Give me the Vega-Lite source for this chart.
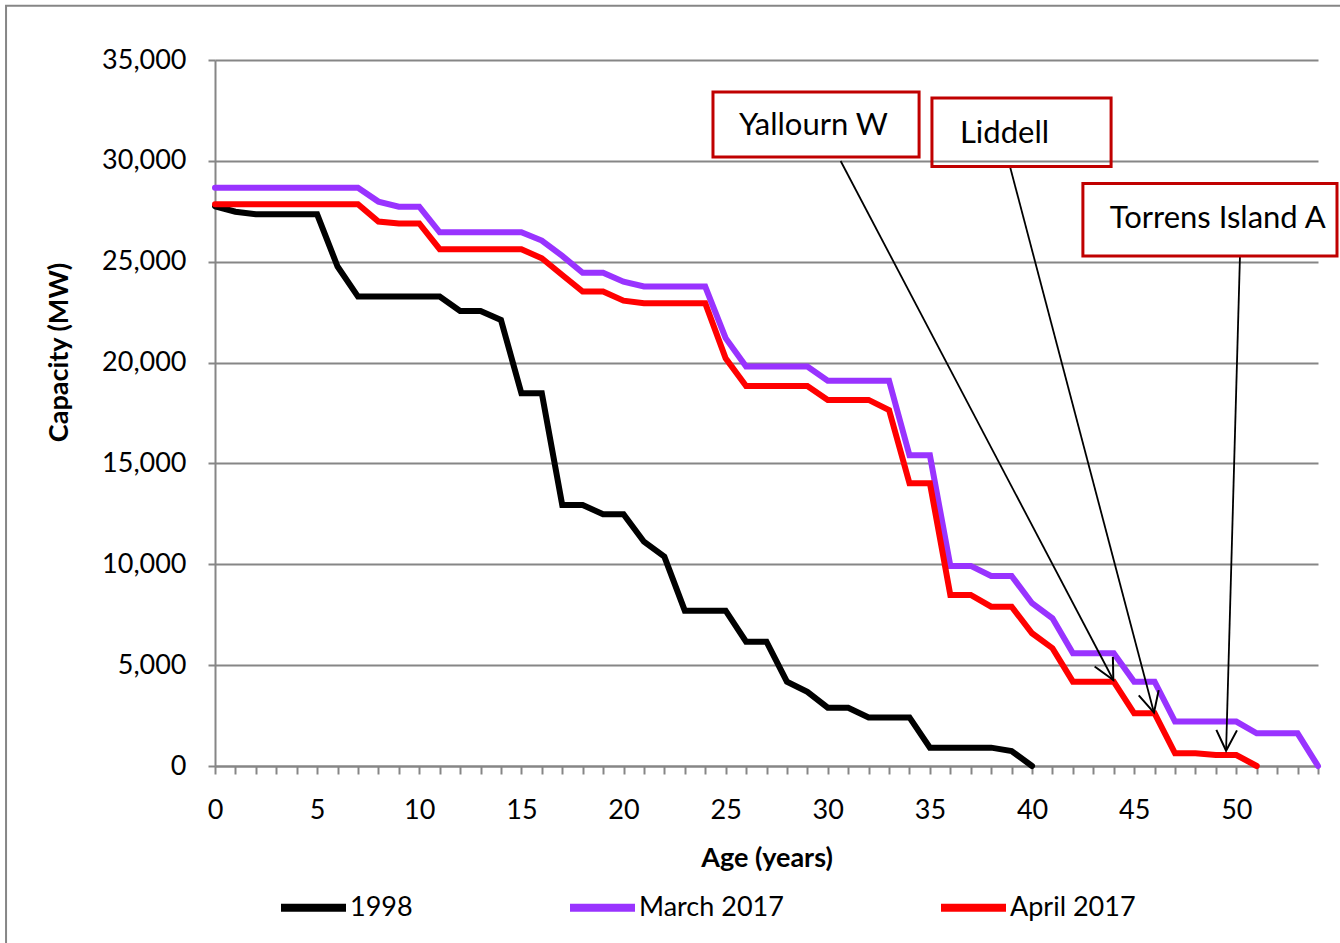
{
  "$schema": "https://vega.github.io/schema/vega-lite/v6.json",
  "width": 1103,
  "height": 706,
  "autosize": {"type": "none"},
  "padding": {"left": 215, "top": 60, "right": 22, "bottom": 177},
  "background": "white",
  "config": {
    "view": {"stroke": null},
    "font": "Lato",
    "text": {"font": "Lato"}
  },
  "resolve": {"axis": {"x": "independent", "y": "independent"}},
  "datasets": {
    "series": [
      {"series": "1998", "age": 0, "cap": 27750},
      {"series": "1998", "age": 1, "cap": 27480},
      {"series": "1998", "age": 2, "cap": 27350},
      {"series": "1998", "age": 3, "cap": 27350},
      {"series": "1998", "age": 4, "cap": 27350},
      {"series": "1998", "age": 5, "cap": 27350},
      {"series": "1998", "age": 6, "cap": 24760},
      {"series": "1998", "age": 7, "cap": 23270},
      {"series": "1998", "age": 8, "cap": 23270},
      {"series": "1998", "age": 9, "cap": 23270},
      {"series": "1998", "age": 10, "cap": 23270},
      {"series": "1998", "age": 11, "cap": 23270},
      {"series": "1998", "age": 12, "cap": 22560},
      {"series": "1998", "age": 13, "cap": 22560},
      {"series": "1998", "age": 14, "cap": 22110},
      {"series": "1998", "age": 15, "cap": 18480},
      {"series": "1998", "age": 16, "cap": 18480},
      {"series": "1998", "age": 17, "cap": 12940},
      {"series": "1998", "age": 18, "cap": 12940},
      {"series": "1998", "age": 19, "cap": 12480},
      {"series": "1998", "age": 20, "cap": 12480},
      {"series": "1998", "age": 21, "cap": 11120},
      {"series": "1998", "age": 22, "cap": 10380},
      {"series": "1998", "age": 23, "cap": 7700},
      {"series": "1998", "age": 24, "cap": 7700},
      {"series": "1998", "age": 25, "cap": 7700},
      {"series": "1998", "age": 26, "cap": 6160},
      {"series": "1998", "age": 27, "cap": 6160},
      {"series": "1998", "age": 28, "cap": 4180},
      {"series": "1998", "age": 29, "cap": 3680},
      {"series": "1998", "age": 30, "cap": 2890},
      {"series": "1998", "age": 31, "cap": 2890},
      {"series": "1998", "age": 32, "cap": 2410},
      {"series": "1998", "age": 33, "cap": 2410},
      {"series": "1998", "age": 34, "cap": 2410},
      {"series": "1998", "age": 35, "cap": 910},
      {"series": "1998", "age": 36, "cap": 910},
      {"series": "1998", "age": 37, "cap": 910},
      {"series": "1998", "age": 38, "cap": 910},
      {"series": "1998", "age": 39, "cap": 745},
      {"series": "1998", "age": 40, "cap": 0},
      {"series": "March 2017", "age": 0, "cap": 28670},
      {"series": "March 2017", "age": 1, "cap": 28670},
      {"series": "March 2017", "age": 2, "cap": 28670},
      {"series": "March 2017", "age": 3, "cap": 28670},
      {"series": "March 2017", "age": 4, "cap": 28670},
      {"series": "March 2017", "age": 5, "cap": 28670},
      {"series": "March 2017", "age": 6, "cap": 28670},
      {"series": "March 2017", "age": 7, "cap": 28670},
      {"series": "March 2017", "age": 8, "cap": 27980},
      {"series": "March 2017", "age": 9, "cap": 27730},
      {"series": "March 2017", "age": 10, "cap": 27730},
      {"series": "March 2017", "age": 11, "cap": 26460},
      {"series": "March 2017", "age": 12, "cap": 26460},
      {"series": "March 2017", "age": 13, "cap": 26460},
      {"series": "March 2017", "age": 14, "cap": 26460},
      {"series": "March 2017", "age": 15, "cap": 26460},
      {"series": "March 2017", "age": 16, "cap": 26050},
      {"series": "March 2017", "age": 17, "cap": 25290},
      {"series": "March 2017", "age": 18, "cap": 24450},
      {"series": "March 2017", "age": 19, "cap": 24450},
      {"series": "March 2017", "age": 20, "cap": 24010},
      {"series": "March 2017", "age": 21, "cap": 23770},
      {"series": "March 2017", "age": 22, "cap": 23770},
      {"series": "March 2017", "age": 23, "cap": 23770},
      {"series": "March 2017", "age": 24, "cap": 23770},
      {"series": "March 2017", "age": 25, "cap": 21210},
      {"series": "March 2017", "age": 26, "cap": 19800},
      {"series": "March 2017", "age": 27, "cap": 19800},
      {"series": "March 2017", "age": 28, "cap": 19800},
      {"series": "March 2017", "age": 29, "cap": 19800},
      {"series": "March 2017", "age": 30, "cap": 19100},
      {"series": "March 2017", "age": 31, "cap": 19100},
      {"series": "March 2017", "age": 32, "cap": 19100},
      {"series": "March 2017", "age": 33, "cap": 19100},
      {"series": "March 2017", "age": 34, "cap": 15400},
      {"series": "March 2017", "age": 35, "cap": 15400},
      {"series": "March 2017", "age": 36, "cap": 9920},
      {"series": "March 2017", "age": 37, "cap": 9920},
      {"series": "March 2017", "age": 38, "cap": 9420},
      {"series": "March 2017", "age": 39, "cap": 9420},
      {"series": "March 2017", "age": 40, "cap": 8070},
      {"series": "March 2017", "age": 41, "cap": 7320},
      {"series": "March 2017", "age": 42, "cap": 5590},
      {"series": "March 2017", "age": 43, "cap": 5590},
      {"series": "March 2017", "age": 44, "cap": 5590},
      {"series": "March 2017", "age": 45, "cap": 4180},
      {"series": "March 2017", "age": 46, "cap": 4180},
      {"series": "March 2017", "age": 47, "cap": 2200},
      {"series": "March 2017", "age": 48, "cap": 2200},
      {"series": "March 2017", "age": 49, "cap": 2200},
      {"series": "March 2017", "age": 50, "cap": 2200},
      {"series": "March 2017", "age": 51, "cap": 1620},
      {"series": "March 2017", "age": 52, "cap": 1620},
      {"series": "March 2017", "age": 53, "cap": 1620},
      {"series": "March 2017", "age": 54, "cap": 0},
      {"series": "April 2017", "age": 0, "cap": 27850},
      {"series": "April 2017", "age": 1, "cap": 27850},
      {"series": "April 2017", "age": 2, "cap": 27850},
      {"series": "April 2017", "age": 3, "cap": 27850},
      {"series": "April 2017", "age": 4, "cap": 27850},
      {"series": "April 2017", "age": 5, "cap": 27850},
      {"series": "April 2017", "age": 6, "cap": 27850},
      {"series": "April 2017", "age": 7, "cap": 27850},
      {"series": "April 2017", "age": 8, "cap": 26990},
      {"series": "April 2017", "age": 9, "cap": 26900},
      {"series": "April 2017", "age": 10, "cap": 26900},
      {"series": "April 2017", "age": 11, "cap": 25620},
      {"series": "April 2017", "age": 12, "cap": 25620},
      {"series": "April 2017", "age": 13, "cap": 25620},
      {"series": "April 2017", "age": 14, "cap": 25620},
      {"series": "April 2017", "age": 15, "cap": 25620},
      {"series": "April 2017", "age": 16, "cap": 25170},
      {"series": "April 2017", "age": 17, "cap": 24340},
      {"series": "April 2017", "age": 18, "cap": 23520},
      {"series": "April 2017", "age": 19, "cap": 23520},
      {"series": "April 2017", "age": 20, "cap": 23070},
      {"series": "April 2017", "age": 21, "cap": 22940},
      {"series": "April 2017", "age": 22, "cap": 22940},
      {"series": "April 2017", "age": 23, "cap": 22940},
      {"series": "April 2017", "age": 24, "cap": 22940},
      {"series": "April 2017", "age": 25, "cap": 20210},
      {"series": "April 2017", "age": 26, "cap": 18840},
      {"series": "April 2017", "age": 27, "cap": 18840},
      {"series": "April 2017", "age": 28, "cap": 18840},
      {"series": "April 2017", "age": 29, "cap": 18840},
      {"series": "April 2017", "age": 30, "cap": 18150},
      {"series": "April 2017", "age": 31, "cap": 18150},
      {"series": "April 2017", "age": 32, "cap": 18150},
      {"series": "April 2017", "age": 33, "cap": 17650},
      {"series": "April 2017", "age": 34, "cap": 14020},
      {"series": "April 2017", "age": 35, "cap": 14020},
      {"series": "April 2017", "age": 36, "cap": 8480},
      {"series": "April 2017", "age": 37, "cap": 8480},
      {"series": "April 2017", "age": 38, "cap": 7900},
      {"series": "April 2017", "age": 39, "cap": 7900},
      {"series": "April 2017", "age": 40, "cap": 6580},
      {"series": "April 2017", "age": 41, "cap": 5840},
      {"series": "April 2017", "age": 42, "cap": 4180},
      {"series": "April 2017", "age": 43, "cap": 4180},
      {"series": "April 2017", "age": 44, "cap": 4180},
      {"series": "April 2017", "age": 45, "cap": 2610},
      {"series": "April 2017", "age": 46, "cap": 2610},
      {"series": "April 2017", "age": 47, "cap": 630},
      {"series": "April 2017", "age": 48, "cap": 630},
      {"series": "April 2017", "age": 49, "cap": 545},
      {"series": "April 2017", "age": 50, "cap": 545},
      {"series": "April 2017", "age": 51, "cap": 0}
    ],
    "notes": [
      {"label": "Yallourn W", "bx1": 24.38, "bx2": 34.47, "by1": 33413, "by2": 30191, "tx": 25.65, "ty": 31723, "sx": 30.63, "sy": 29993, "ex": 43.98, "ey": 4263},
      {"label": "Liddell", "bx1": 35.10, "bx2": 43.87, "by1": 33116, "by2": 29721, "tx": 36.47, "ty": 31312, "sx": 38.92, "sy": 29721, "ex": 45.97, "ey": 2642},
      {"label": "Torrens Island A", "bx1": 42.49, "bx2": 54.93, "by1": 28878, "by2": 25283, "tx": 43.8, "ty": 27098, "sx": 50.18, "sy": 25283, "ex": 49.5, "ey": 758}
    ]
  },
  "layer": [
    {
      "data": {"name": "series"},
      "mark": {"type": "line", "strokeWidth": 6, "strokeCap": "round"},
      "encoding": {
        "x": {
          "field": "age", "type": "quantitative",
          "scale": {"domain": [0, 54], "nice": false, "zero": false},
          "axis": {
            "values": [0,1,2,3,4,5,6,7,8,9,10,11,12,13,14,15,16,17,18,19,20,21,22,23,24,25,26,27,28,29,30,31,32,33,34,35,36,37,38,39,40,41,42,43,44,45,46,47,48,49,50,51,52,53,54],
            "format": "d",
            "labelExpr": "datum.value % 5 === 0 ? datum.label : ''",
            "grid": false,
            "tickSize": 8, "tickColor": "#868686", "tickWidth": 2,
            "domainColor": "#868686", "domainWidth": 2,
            "labelFont": "Lato", "labelFontSize": 27, "labelColor": "#000000", "labelPadding": 23,
            "labelFlush": false, "labelOverlap": false,
            "title": "Age (years)", "titleFont": "Lato", "titleFontSize": 27, "titleFontWeight": "bold", "titleColor": "#000000",
            "titleY": 92, "titleBaseline": "middle"
          }
        },
        "y": {
          "field": "cap", "type": "quantitative",
          "scale": {"domain": [0, 35000], "nice": false},
          "axis": {
            "values": [0, 5000, 10000, 15000, 20000, 25000, 30000, 35000],
            "format": ",.0f",
            "grid": true, "gridColor": "#868686", "gridWidth": 2,
            "tickSize": 7, "tickColor": "#868686", "tickWidth": 2,
            "domainColor": "#868686", "domainWidth": 2,
            "labelFont": "Lato", "labelFontSize": 27, "labelColor": "#000000", "labelPadding": 22,
            "title": "Capacity (MW)", "titleFont": "Lato", "titleFontSize": 27, "titleFontWeight": "bold", "titleColor": "#000000",
            "titleX": -156, "titleY": 292, "titleAngle": -90, "titleAlign": "center", "titleBaseline": "middle"
          }
        },
        "color": {
          "field": "series", "type": "nominal",
          "scale": {"domain": ["1998", "March 2017", "April 2017"], "range": ["#000000", "#9933FF", "#FF0000"]},
          "legend": {
            "orient": "none", "legendX": 62, "legendY": 811,
            "direction": "horizontal", "title": null,
            "symbolType": "stroke", "symbolSize": 4225, "symbolStrokeWidth": 8,
            "labelFont": "Lato", "labelFontSize": 27, "labelColor": "#000000", "labelOffset": 0,
            "columnPadding": 141, "padding": 0
          }
        }
      }
    },
    {
      "data": {"values": [{}]},
      "mark": {"type": "rect", "fill": null, "stroke": "#868686", "strokeWidth": 2, "clip": false},
      "encoding": {
        "x": {"datum": -10.23, "type": "quantitative", "axis": null},
        "x2": {"datum": 57},
        "y": {"datum": 37692, "type": "quantitative", "axis": null},
        "y2": {"datum": -10000}
      }
    },
    {
      "data": {"name": "notes"},
      "mark": {"type": "rule", "stroke": "#000000", "strokeWidth": 1.8},
      "encoding": {
        "x": {"field": "sx", "type": "quantitative", "axis": null},
        "y": {"field": "sy", "type": "quantitative", "axis": null},
        "x2": {"field": "ex"},
        "y2": {"field": "ey"}
      }
    },
    {
      "data": {"name": "notes"},
      "transform": [{"filter": "datum.label === 'Yallourn W'"}],
      "mark": {"type": "point", "shape": "M-0.5,-1L0,0L0.5,-1", "filled": false, "stroke": "#000000", "strokeWidth": 2, "size": 1700, "angle": -27.7, "opacity": 1},
      "encoding": {
        "x": {"field": "ex", "type": "quantitative", "axis": null},
        "y": {"field": "ey", "type": "quantitative", "axis": null}
      }
    },
    {
      "data": {"name": "notes"},
      "transform": [{"filter": "datum.label === 'Liddell'"}],
      "mark": {"type": "point", "shape": "M-0.5,-1L0,0L0.5,-1", "filled": false, "stroke": "#000000", "strokeWidth": 2, "size": 1700, "angle": -14.8, "opacity": 1},
      "encoding": {
        "x": {"field": "ex", "type": "quantitative", "axis": null},
        "y": {"field": "ey", "type": "quantitative", "axis": null}
      }
    },
    {
      "data": {"name": "notes"},
      "transform": [{"filter": "datum.label === 'Torrens Island A'"}],
      "mark": {"type": "point", "shape": "M-0.5,-1L0,0L0.5,-1", "filled": false, "stroke": "#000000", "strokeWidth": 2, "size": 1700, "angle": 1.6, "opacity": 1},
      "encoding": {
        "x": {"field": "ex", "type": "quantitative", "axis": null},
        "y": {"field": "ey", "type": "quantitative", "axis": null}
      }
    },
    {
      "data": {"name": "notes"},
      "mark": {"type": "rect", "fill": null, "stroke": "#C00000", "strokeWidth": 3, "clip": false},
      "encoding": {
        "x": {"field": "bx1", "type": "quantitative", "axis": null},
        "x2": {"field": "bx2"},
        "y": {"field": "by1", "type": "quantitative", "axis": null},
        "y2": {"field": "by2"}
      }
    },
    {
      "data": {"name": "notes"},
      "mark": {"type": "text", "font": "Lato", "fontSize": 31, "align": "left", "baseline": "middle", "color": "#000000"},
      "encoding": {
        "x": {"field": "tx", "type": "quantitative", "axis": null},
        "y": {"field": "ty", "type": "quantitative", "axis": null},
        "text": {"field": "label"}
      }
    }
  ]
}
